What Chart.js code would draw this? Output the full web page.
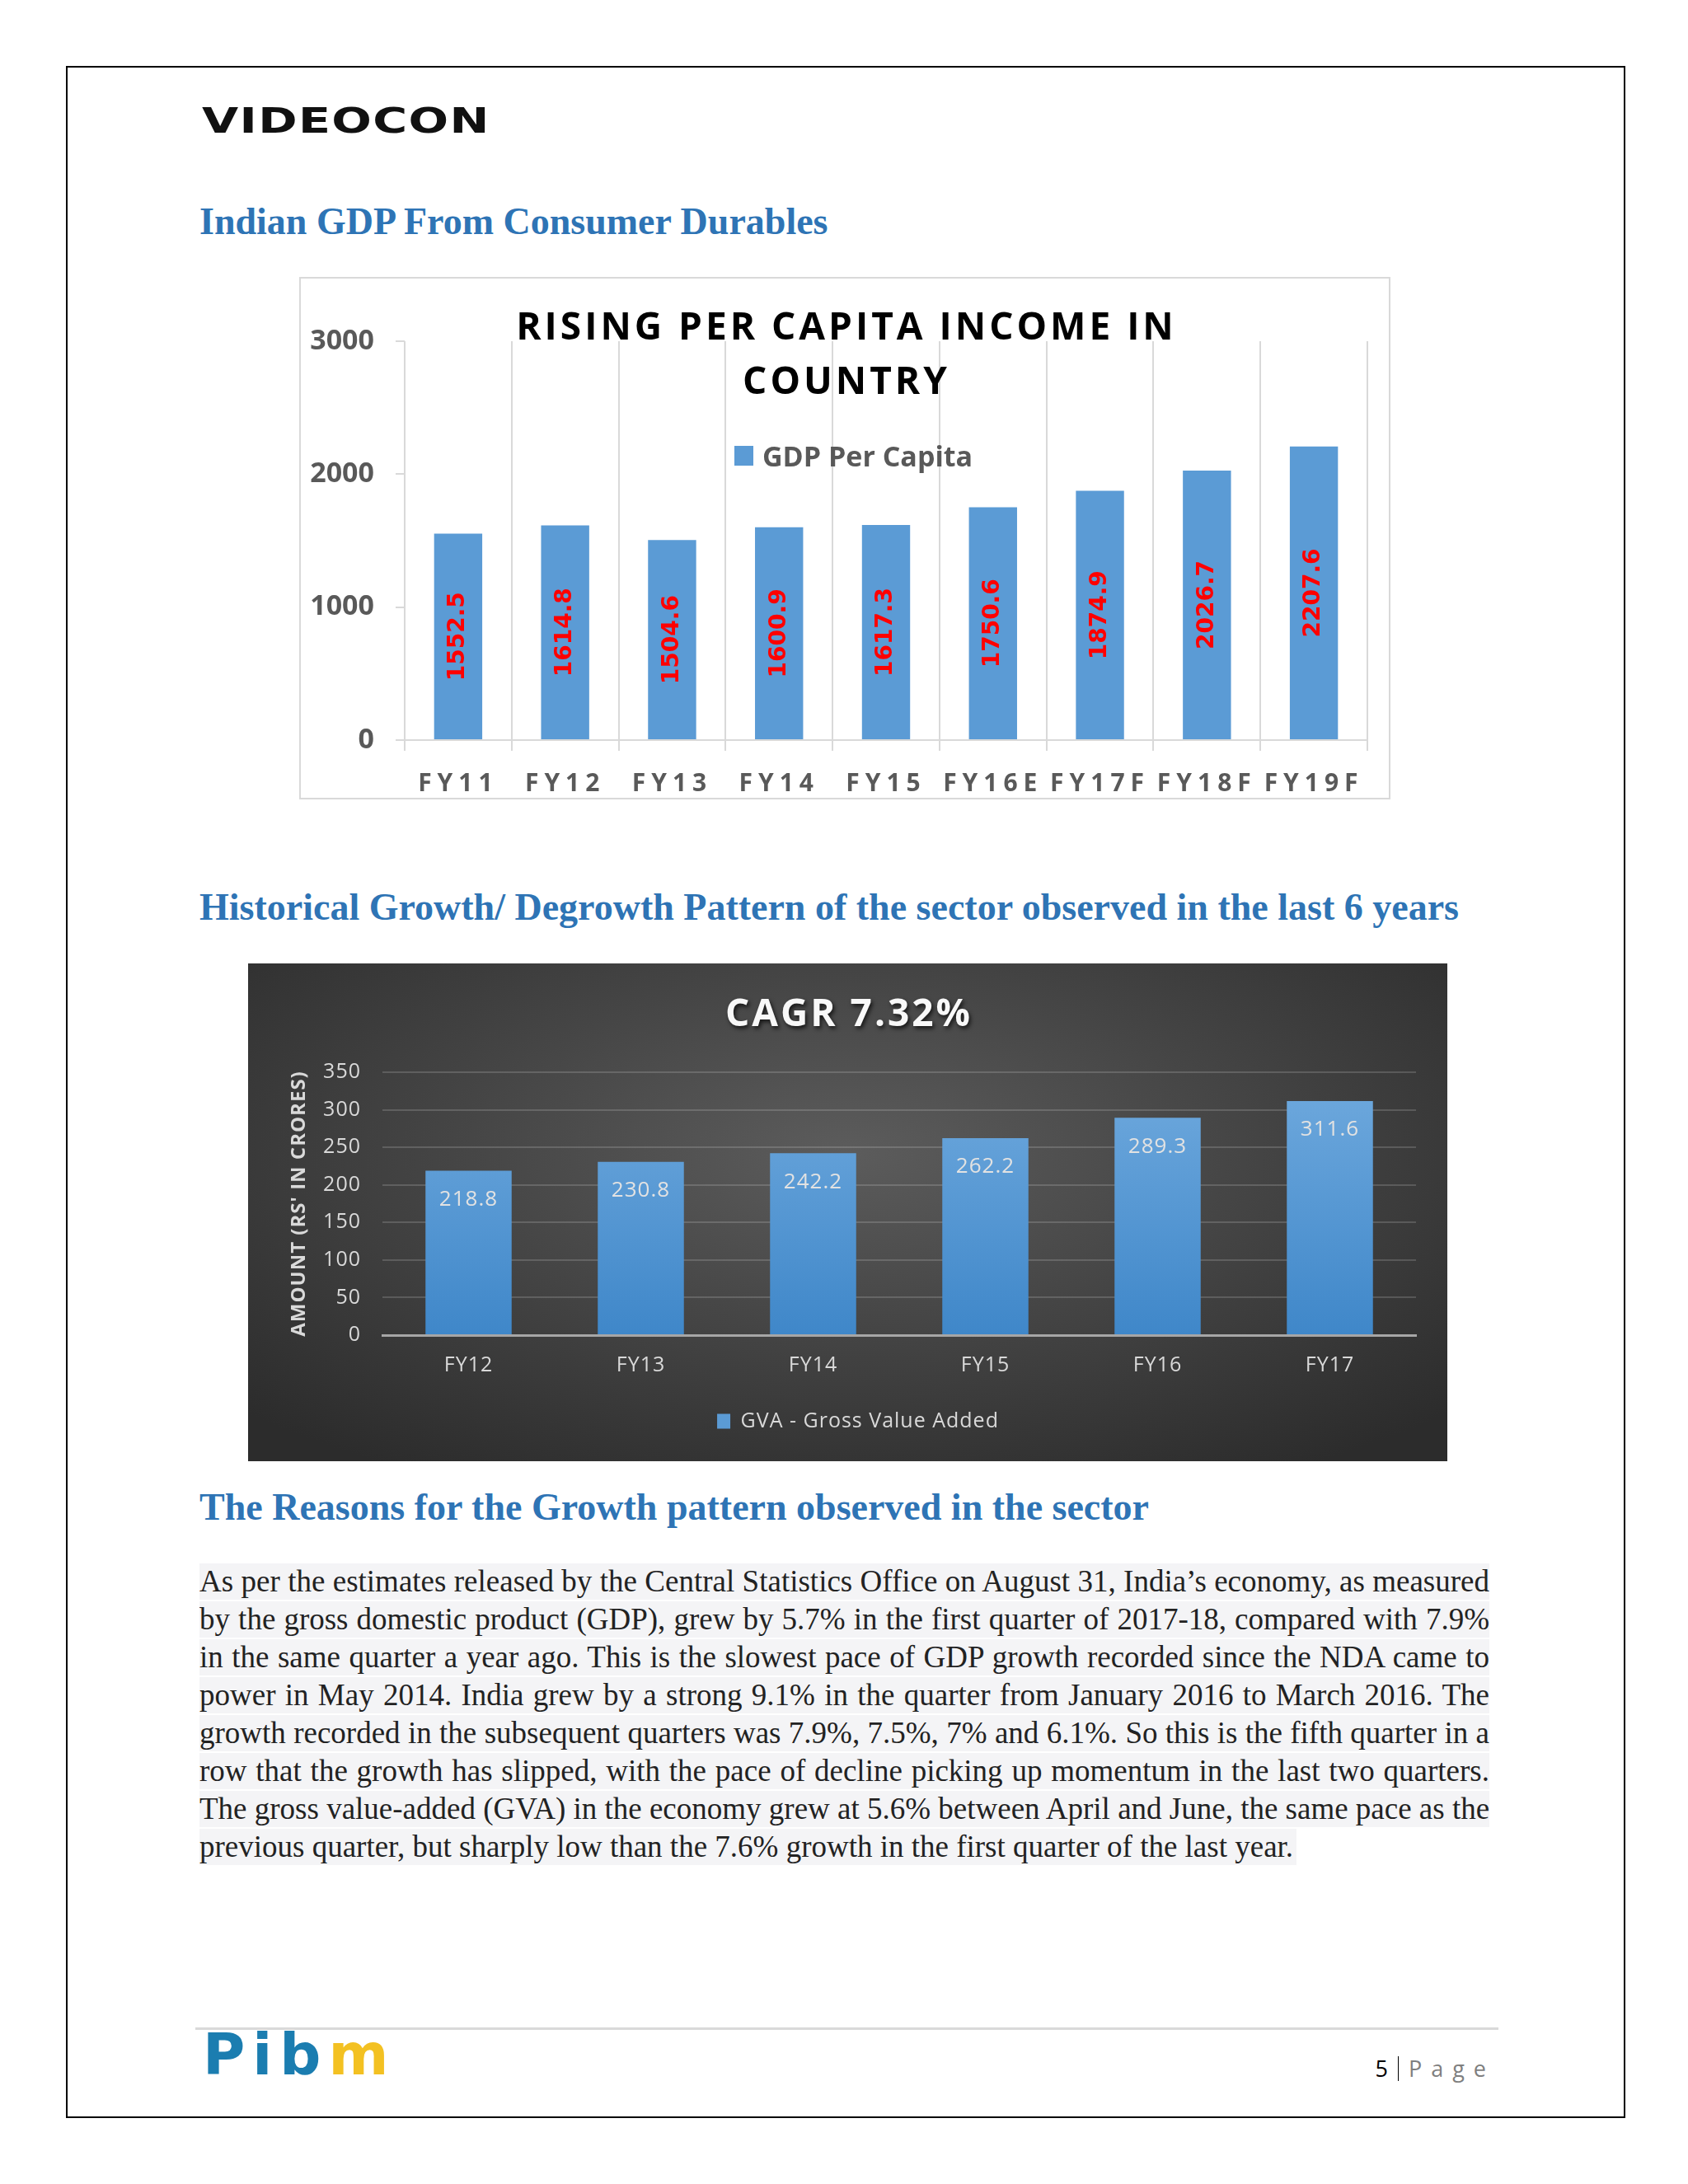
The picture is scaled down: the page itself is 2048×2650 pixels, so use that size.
<!DOCTYPE html>
<html>
<head>
<meta charset="utf-8">
<title>Indian GDP From Consumer Durables</title>
<script src="https://cdn.jsdelivr.net/npm/chart.js@4.4.1/dist/chart.umd.min.js"></script>
<style>
  html, body { margin: 0; padding: 0; background: #fff; }
  body { width: 2048px; height: 2650px; position: relative; overflow: hidden; font-family: "Open Sans", sans-serif; }
  .abs { position: absolute; }
  .page-border { left: 80px; top: 80px; width: 1892px; height: 2490px; border: 2px solid #000; box-sizing: border-box; }
  .brand { left: 245px; top: 126px; font: bold 42px/42px "DejaVu Sans", sans-serif; color: #111; transform: scaleX(1.36); transform-origin: left top; letter-spacing: 1px; }
  .heading { left: 242px; font: bold 46px/46px "Liberation Serif", serif; color: #2e74b5; white-space: nowrap; }
  .box1 { left: 363px; top: 336px; width: 1324px; height: 634px; border: 2px solid #d9d9d9; box-sizing: border-box; background: #fff; }
  .box2 { left: 301px; top: 1169px; width: 1455px; height: 604px;
          background: radial-gradient(ellipse 70% 75% at 50% 38%, #5c5c5c 0%, #464646 45%, #2c2c2c 100%); }
  .title1 { left: 0; top: 23px; width: 100%; text-align: center; font: bold 46px/66px "Open Sans", sans-serif; letter-spacing: 4px; padding-left: 4px; box-sizing: border-box; color: #000; }
  .legend1 { left: 526px; top: 215px; transform: translateY(-50%); display: flex; align-items: center; gap: 11px; font: bold 34px/34px "Open Sans", sans-serif; color: #595959; }
  .legend1 .sw { width: 23px; height: 24px; background: #5b9bd5; }
  .title2 { left: 0; top: 33px; width: 100%; text-align: center; font: bold 46px/50px "Open Sans", sans-serif; letter-spacing: 3px; padding-left: 3px; box-sizing: border-box; color: #f8f8f8; text-shadow: 2px 3px 5px rgba(0,0,0,0.7); }
  .para { left: 242px; top: 1897px; width: 1565px; font: 37px/44px "Liberation Serif", serif; color: #222; }
  .para .ln { background: #f4f4f6; margin-bottom: 2px; text-align: justify; text-align-last: justify; white-space: nowrap; overflow: hidden; }
  .para .ln.last { display: inline-block; text-align: left; text-align-last: left; padding-right: 4px; }
  .footline { left: 237px; top: 2460px; width: 1581px; height: 3px; background: #d9d9d9; }
  .pibm { left: 246px; top: 2458px; font: bold 70px/70px "DejaVu Sans", sans-serif; letter-spacing: 9px; }
  .pageno { right: 234px; top: 2494px; font: 27px/32px "Open Sans", sans-serif; display: flex; align-items: center; }
  .pageno .bar { width: 1px; height: 30px; background: #000; margin: 0 12px 0 12px; }
  canvas { display: block; }
</style>
</head>
<body>
<div class="abs page-border"></div>
<div class="abs brand">VIDEOCON</div>

<div class="abs heading" style="top:246px;">Indian GDP From Consumer Durables</div>

<div class="abs box1">
  <canvas id="incomeChart" width="1320" height="630"></canvas>
  <div class="abs title1">RISING PER CAPITA INCOME IN<br>COUNTRY</div>
  <div class="abs legend1"><span class="sw"></span><span>GDP Per Capita</span></div>
</div>

<div class="abs heading" style="top:1078px;">Historical Growth/ Degrowth Pattern of the sector observed in the last 6 years</div>

<div class="abs box2">
  <canvas id="gvaChart" width="1455" height="604"></canvas>
  <div class="abs title2">CAGR 7.32%</div>
</div>

<div class="abs heading" style="top:1806px;">The Reasons for the Growth pattern observed in the sector</div>

<div class="abs para">
  <div class="ln">As per the estimates released by the Central Statistics Office on August 31, India’s economy, as measured</div>
  <div class="ln">by the gross domestic product (GDP), grew by 5.7% in the first quarter of 2017-18, compared with 7.9%</div>
  <div class="ln">in the same quarter a year ago. This is the slowest pace of GDP growth recorded since the NDA came to</div>
  <div class="ln">power in May 2014. India grew by a strong 9.1% in the quarter from January 2016 to March 2016. The</div>
  <div class="ln">growth recorded in the subsequent quarters was 7.9%, 7.5%, 7% and 6.1%. So this is the fifth quarter in a</div>
  <div class="ln">row that the growth has slipped, with the pace of decline picking up momentum in the last two quarters.</div>
  <div class="ln">The gross value-added (GVA) in the economy grew at 5.6% between April and June, the same pace as the</div>
  <div class="ln last">previous quarter, but sharply low than the 7.6% growth in the first quarter of the last year.</div>
</div>

<div class="abs footline"></div>
<div class="abs pibm"><span style="color:#1b7db0">Pib</span><span style="color:#f3c122">m</span></div>
<div class="abs pageno"><span style="color:#000">5</span><span class="bar"></span><span style="color:#7f7f7f; letter-spacing:11px;">Page</span></div>

<script>
// chart 1 - per capita income
const incomeYears = ['FY11', 'FY12', 'FY13', 'FY14', 'FY15', 'FY16E', 'FY17F', 'FY18F', 'FY19F'];
const incomeValues = [1552.5, 1614.8, 1504.6, 1600.9, 1617.3, 1750.6, 1874.9, 2026.7, 2207.6];
const incomeTicks = [0, 1000, 2000, 3000];

// chart 2 - gross value added
const gvaYears = ['FY12', 'FY13', 'FY14', 'FY15', 'FY16', 'FY17'];
const gvaValues = [218.8, 230.8, 242.2, 262.2, 289.3, 311.6];
const gvaTicks = [0, 50, 100, 150, 200, 250, 300, 350];

Chart.defaults.font.family = "'Open Sans', sans-serif";

// draws the value labels on the bars, and sets letter spacing for the x tick labels
const barLabels = {
    id: 'barLabels',
    beforeDraw(chart, args, opts) {
        chart.ctx.letterSpacing = opts.baseSpacing || '0px';
    },
    afterDatasetsDraw(chart, args, opts) {
        const ctx = chart.ctx;
        const meta = chart.getDatasetMeta(0);
        const values = chart.data.datasets[0].data;
        ctx.save();
        ctx.letterSpacing = opts.baseSpacing || '0px';
        ctx.font = opts.font;
        ctx.fillStyle = opts.color;
        ctx.textAlign = 'center';
        ctx.textBaseline = 'middle';
        meta.data.forEach((bar, i) => {
            const text = values[i].toFixed(1);
            if (opts.rotate) {
                ctx.save();
                ctx.translate(bar.x, (bar.y + bar.base) / 2);
                ctx.rotate(-Math.PI / 2);
                ctx.fillText(text, 0, 0);
                ctx.restore();
            } else {
                ctx.fillText(text, bar.x, bar.y + opts.offset);
            }
        });
        ctx.restore();
        if (opts.tickSpacing) ctx.letterSpacing = opts.tickSpacing;
    },
    afterDraw(chart) {
        chart.ctx.letterSpacing = '0px';
    }
};

new Chart(document.getElementById('incomeChart'), {
    type: 'bar',
    data: {
        labels: incomeYears,
        datasets: [{
            label: 'GDP Per Capita',
            data: incomeValues,
            backgroundColor: '#5b9bd5',
            barPercentage: 0.45,
            categoryPercentage: 1
        }]
    },
    options: {
        responsive: false,
        animation: false,
        layout: { padding: { left: 0, right: 26, top: 76, bottom: 0 } },
        plugins: {
            legend: { display: false },
            tooltip: { enabled: false },
            barLabels: { font: 'bold 28px "DejaVu Sans"', color: '#ff0000', rotate: true, tickSpacing: '7px' }
        },
        scales: {
            x: {
                grid: { color: '#d9d9d9', lineWidth: 2, tickLength: 13, offset: true },
                border: { color: '#d9d9d9', width: 2 },
                ticks: { color: '#595959', font: { size: 30, weight: 'bold' }, padding: 22, z: 1, maxRotation: 0, autoSkip: false },
                afterFit(s) { s.height = 70; }
            },
            y: {
                min: incomeTicks[0],
                max: incomeTicks[incomeTicks.length - 1],
                ticks: {
                    stepSize: 1000,
                    color: '#595959',
                    font: { size: 34, weight: 'bold' },
                    padding: 26,
                    callback: v => String(v)
                },
                grid: { drawOnChartArea: false, drawTicks: true, tickLength: 11, color: '#d9d9d9', lineWidth: 2 },
                border: { display: false },
                afterFit(s) { s.width = 126; }
            }
        }
    },
    plugins: [barLabels]
});

new Chart(document.getElementById('gvaChart'), {
    type: 'bar',
    data: {
        labels: gvaYears,
        datasets: [{
            label: 'GVA - Gross Value Added',
            data: gvaValues,
            backgroundColor(c) {
                const area = c.chart.chartArea;
                if (!area) return '#5b9bd5';
                const g = c.chart.ctx.createLinearGradient(0, area.top, 0, area.bottom);
                g.addColorStop(0, '#70aade');
                g.addColorStop(1, '#3f87c9');
                return g;
            },
            barPercentage: 0.5,
            categoryPercentage: 1
        }]
    },
    options: {
        responsive: false,
        animation: false,
        layout: { padding: { left: 40, right: 38, top: 132, bottom: 26 } },
        plugins: {
            legend: {
                position: 'bottom',
                labels: {
                    color: '#d9d9d9',
                    font: { size: 25 },
                    boxWidth: 16,
                    boxHeight: 18,
                    padding: 10,
                    generateLabels(chart) {
                        const items = Chart.defaults.plugins.legend.labels.generateLabels(chart);
                        items.forEach(it => { it.fillStyle = '#5b9bd5'; it.strokeStyle = '#5b9bd5'; it.lineWidth = 0; });
                        return items;
                    }
                }
            },
            tooltip: { enabled: false },
            barLabels: { font: '26px "Open Sans"', color: '#e2e2e2', offset: 35, baseSpacing: '1px' }
        },
        scales: {
            x: {
                grid: { display: false },
                border: { color: '#a6a6a6', width: 3 },
                ticks: { color: '#d9d9d9', font: { size: 25 }, padding: 14, maxRotation: 0 },
                afterFit(s) { s.height = 82; }
            },
            y: {
                min: gvaTicks[0],
                max: gvaTicks[gvaTicks.length - 1],
                ticks: { stepSize: 50, color: '#d9d9d9', font: { size: 25 }, padding: 26, callback: v => String(v) },
                grid: { color: 'rgba(255,255,255,0.16)', lineWidth: 2, drawTicks: false },
                border: { display: false },
                title: {
                    display: true,
                    text: "AMOUNT (RS' IN CRORES)",
                    color: '#d9d9d9',
                    font: { size: 24, weight: 'bold' },
                    padding: { top: 8, bottom: 0 }
                },
                afterFit(s) { s.width = 123; }
            }
        }
    },
    plugins: [barLabels]
});
</script>
</body>
</html>
